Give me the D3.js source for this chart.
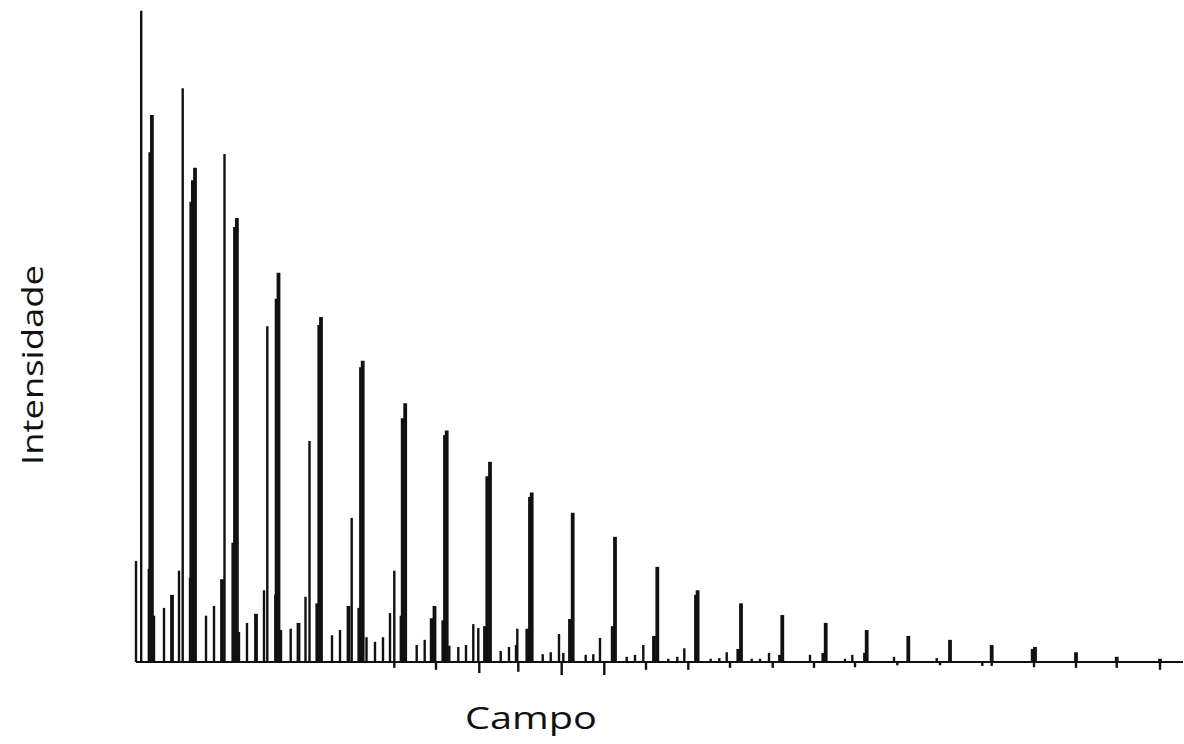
<!DOCTYPE html>
<html>
<head>
<meta charset="utf-8">
<script src="https://cdn.jsdelivr.net/npm/d3@7"></script>
<style>
  html, body { margin: 0; padding: 0; background: #fff; }
  svg { display: block; }
  .label { font-family: "Open Sans", "DejaVu Sans", sans-serif; fill: #111; }
</style>
</head>
<body>
<svg id="chart" width="1184" height="744"></svg>
<script>
// Stick spectrum: [campo, intensidade] pairs (campo in arbitrary field units 0–105, intensity 0–100)

// Narrow lines
const linhasFinas = [
  [0.30, 15.5], [0.82, 99.9], [2.10, 7.1], [3.10, 8.3], [4.60, 14.0], [4.97, 88.0],
  [7.30, 7.1], [8.10, 8.6], [9.15, 77.9], [10.60, 4.6], [11.40, 6.0], [13.10, 11.0],
  [13.43, 51.5], [14.80, 4.9], [15.77, 5.1], [17.25, 10.0], [17.65, 33.9], [19.90, 4.1],
  [20.70, 4.9], [21.87, 22.1], [23.35, 3.8], [24.20, 3.1], [25.00, 3.8], [25.70, 7.5],
  [26.13, 14.0], [28.37, 2.6], [29.17, 3.4], [31.63, 2.5], [32.53, 2.3], [33.30, 2.6],
  [34.03, 5.8], [34.53, 5.2], [36.77, 1.7], [37.60, 2.3], [38.30, 2.6], [38.43, 5.1],
  [40.97, 1.2], [41.77, 1.5], [42.60, 4.3], [43.03, 1.4], [45.27, 1.1], [46.03, 1.2],
  [46.70, 3.7], [49.37, 0.8], [50.20, 1.1], [51.03, 2.6], [53.53, 0.5], [54.43, 0.8],
  [55.13, 2.1], [57.77, 0.5], [58.63, 0.6], [59.37, 1.5], [61.87, 0.5], [62.70, 0.5],
  [63.60, 1.4], [67.70, 1.1], [71.20, 0.5], [71.93, 1.1], [76.10, 0.8], [80.37, 0.6]
];

// Broad (unresolved) lines
const linhasLargas = [
  [1.65, 14.3], [1.73, 78.2], [1.89, 83.9], [3.90, 10.3], [5.77, 12.9], [5.83, 70.6],
  [5.99, 73.9], [6.20, 75.8], [8.90, 12.7], [10.03, 18.3], [10.20, 66.7], [10.39, 68.1],
  [12.30, 7.4], [14.30, 10.3], [14.36, 55.7], [14.55, 59.7], [16.55, 6.0], [18.43, 9.0],
  [18.63, 51.7], [18.80, 52.9], [21.55, 8.6], [22.63, 8.3], [22.80, 45.2], [22.97, 46.2],
  [26.85, 7.1], [26.97, 37.4], [27.22, 39.7], [29.87, 6.7], [30.15, 8.6], [31.03, 6.4],
  [31.20, 34.8], [31.37, 35.5], [35.20, 5.5], [35.43, 28.5], [35.70, 30.7], [39.43, 5.1],
  [39.70, 25.3], [39.87, 26.0], [43.70, 6.6], [43.97, 22.9], [47.97, 5.5], [48.20, 19.2],
  [52.10, 4.0], [52.43, 14.6], [56.30, 10.3], [56.46, 11.0], [60.53, 2.0], [60.80, 9.0],
  [64.70, 1.1], [64.93, 7.2], [69.03, 1.4], [69.27, 6.0], [73.20, 1.4], [73.37, 4.9],
  [77.53, 4.0], [81.70, 3.4], [85.87, 2.6], [89.97, 2.0], [90.20, 2.3], [94.30, 1.5],
  [98.37, 0.8], [102.70, 0.5]
];

// Small negative excursions below the baseline
const depressoes = [
  [26.13, -0.9], [30.30, -1.2], [34.63, -1.7], [38.53, -1.5], [42.87, -2.0], [47.13, -2.0],
  [51.30, -1.2], [55.53, -1.2], [59.70, -0.9], [63.97, -0.9], [68.10, -0.9], [72.20, -0.8],
  [76.43, -0.5], [80.70, -0.5], [84.93, -0.6], [85.87, -0.6], [90.10, -0.8], [94.30, -0.9],
  [98.37, -0.9], [102.70, -1.2]
];

// Extent of the recorded baseline
const linhaBase = [[0.30, 0], [105, 0]];

const tituloX = "Campo";
const tituloY = "Intensidade";

const svg = d3.select("#chart");

const x = d3.scaleLinear().domain([0, 105]).range([133, 1183]);
const y = d3.scaleLinear().domain([0, 100]).range([662, 10]);

const ink = "#111";

// baseline
svg.append("path")
  .datum(linhaBase)
  .attr("d", d3.line().x(d => x(d[0])).y(d => y(d[1])))
  .attr("stroke", ink)
  .attr("stroke-width", 2.2)
  .attr("fill", "none");

function sticks(data, width) {
  svg.append("g")
    .selectAll("line")
    .data(data)
    .join("line")
    .attr("x1", d => x(d[0]))
    .attr("x2", d => x(d[0]))
    .attr("y1", y(0))
    .attr("y2", d => y(d[1]))
    .attr("stroke", ink)
    .attr("stroke-width", width);
}

sticks(depressoes, 2.4);
sticks(linhasFinas, 2.4);
sticks(linhasLargas, 3.8);

// axis titles
svg.append("text")
  .attr("class", "label")
  .attr("x", 465)
  .attr("y", 729)
  .attr("font-size", 31)
  .attr("textLength", 132)
  .attr("lengthAdjust", "spacingAndGlyphs")
  .text(tituloX);

svg.append("text")
  .attr("class", "label")
  .attr("transform", "translate(43,465) rotate(-90)")
  .attr("font-size", 30)
  .attr("textLength", 200)
  .attr("lengthAdjust", "spacingAndGlyphs")
  .text(tituloY);
</script>
</body>
</html>
